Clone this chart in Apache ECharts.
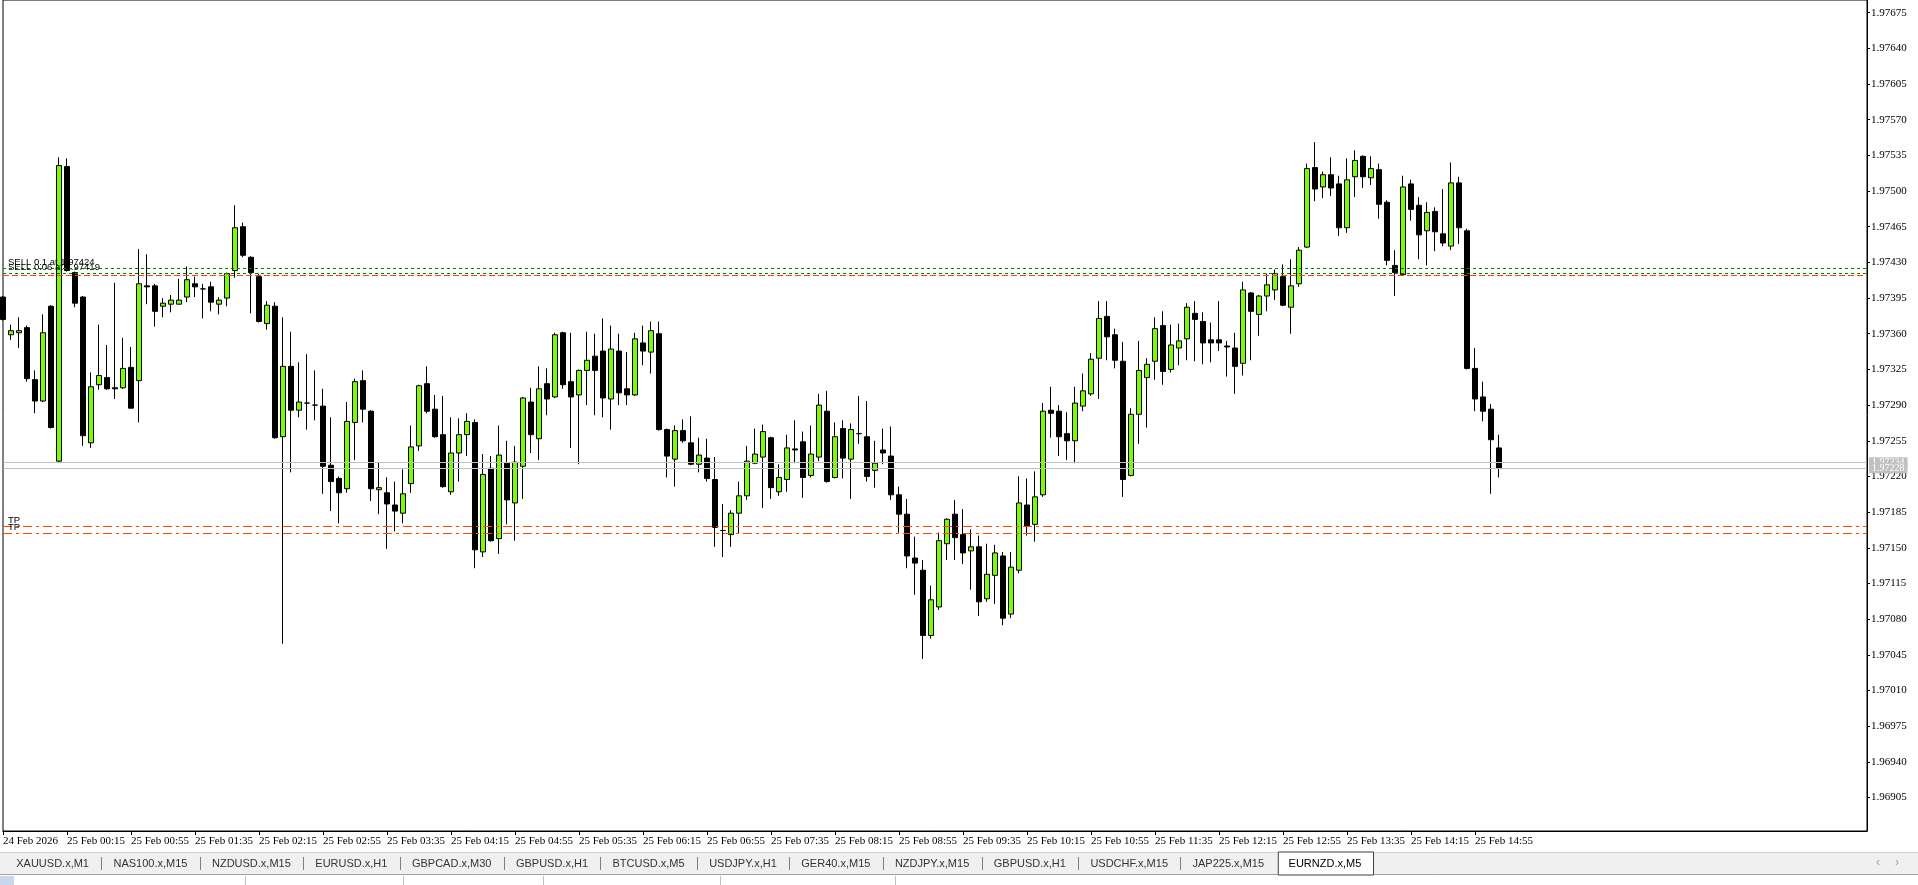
<!DOCTYPE html>
<html><head><meta charset="utf-8">
<script src="https://cdn.jsdelivr.net/npm/echarts@6/dist/echarts.min.js"></script>
<style>html,body{margin:0;padding:0;background:#fff;overflow:hidden}#c{width:1918px;height:885px}</style>
</head><body><div id="c"></div>
<script>
// ---- data ----
const opens = [1.97396,1.97359,1.97361,1.97366,1.97315,1.97294,1.97387,1.97235,1.97524,1.97420,
1.97396,1.97253,1.97310,1.97317,1.97307,1.97307,1.97327,1.97314,1.97407,1.97407,
1.97387,1.97389,1.97389,1.97396,1.97409,1.97404,1.97406,1.97389,1.97395,1.97422,
1.97465,1.97435,1.97416,1.97370,1.97387,1.97259,1.97328,1.97285,1.97292,1.97290,
1.97289,1.97231,1.97218,1.97208,1.97273,1.97314,1.97284,1.97207,1.97204,1.97192,
1.97184,1.97213,1.97250,1.97311,1.97286,1.97261,1.97205,1.97243,1.97261,1.97273,
1.97146,1.97228,1.97159,1.97233,1.97194,1.97230,1.97293,1.97257,1.97311,1.97298,
1.97361,1.97313,1.97300,1.97324,1.97338,1.97343,1.97296,1.97343,1.97306,1.97300,
1.97351,1.97342,1.97360,1.97266,1.97237,1.97265,1.97253,1.97232,1.97238,1.97217,
1.97167,1.97163,1.97184,1.97201,1.97233,1.97239,1.97258,1.97205,1.97217,1.97247,
1.97254,1.97221,1.97239,1.97284,1.97219,1.97267,1.97237,1.97262,1.97259,1.97226,
1.97246,1.97240,1.97202,1.97183,1.97140,1.97128,1.97064,1.97092,1.97154,1.97183,
1.97163,1.97147,1.97151,1.97100,1.97123,1.97142,1.97085,1.97128,1.97192,1.97173,
1.97202,1.97285,1.97284,1.97262,1.97255,1.97289,1.97301,1.97336,1.97377,1.97359,
1.97333,1.97221,1.97281,1.97317,1.97333,1.97368,1.97325,1.97346,1.97355,1.97380,
1.97372,1.97354,1.97354,1.97348,1.97346,1.97331,1.97400,1.97379,1.97397,1.97403,
1.97416,1.97386,1.97409,1.97445,1.97523,1.97504,1.97516,1.97507,1.97464,1.97514,
1.97534,1.97513,1.97521,1.97489,1.97427,1.97418,1.97507,1.97486,1.97461,1.97480,
1.97458,1.97446,1.97508,1.97461,1.97326,1.97298,1.97286,1.97248];
const highs = [1.97397,1.97369,1.97376,1.97368,1.97324,1.97379,1.97388,1.97533,1.97532,1.97421,
1.97397,1.97322,1.97369,1.97349,1.97410,1.97356,1.97347,1.97443,1.97438,1.97409,
1.97395,1.97398,1.97414,1.97426,1.97416,1.97409,1.97411,1.97396,1.97420,1.97486,
1.97469,1.97436,1.97419,1.97392,1.97391,1.97376,1.97362,1.97332,1.97340,1.97324,
1.97306,1.97278,1.97220,1.97293,1.97316,1.97324,1.97285,1.97234,1.97219,1.97215,
1.97227,1.97270,1.97310,1.97328,1.97300,1.97299,1.97278,1.97277,1.97282,1.97276,
1.97242,1.97240,1.97270,1.97255,1.97250,1.97298,1.97307,1.97328,1.97326,1.97361,
1.97362,1.97361,1.97325,1.97362,1.97360,1.97375,1.97368,1.97360,1.97342,1.97361,
1.97368,1.97372,1.97372,1.97267,1.97270,1.97276,1.97279,1.97258,1.97257,1.97239,
1.97193,1.97187,1.97215,1.97250,1.97267,1.97271,1.97259,1.97232,1.97261,1.97275,
1.97264,1.97270,1.97301,1.97304,1.97273,1.97275,1.97272,1.97299,1.97294,1.97255,
1.97267,1.97269,1.97210,1.97198,1.97161,1.97138,1.97113,1.97165,1.97179,1.97197,
1.97188,1.97168,1.97162,1.97154,1.97153,1.97146,1.97146,1.97220,1.97218,1.97225,
1.97292,1.97308,1.97290,1.97283,1.97308,1.97321,1.97341,1.97392,1.97392,1.97365,
1.97352,1.97287,1.97353,1.97336,1.97376,1.97382,1.97369,1.97370,1.97390,1.97392,
1.97381,1.97371,1.97392,1.97353,1.97361,1.97411,1.97401,1.97398,1.97419,1.97423,
1.97428,1.97433,1.97445,1.97527,1.97548,1.97519,1.97533,1.97515,1.97532,1.97540,
1.97535,1.97534,1.97527,1.97491,1.97442,1.97515,1.97511,1.97494,1.97489,1.97484,
1.97502,1.97528,1.97514,1.97463,1.97346,1.97313,1.97291,1.97261];
const lows = [1.97373,1.97354,1.97346,1.97313,1.97282,1.97293,1.97267,1.97234,1.97421,1.97386,
1.97250,1.97248,1.97305,1.97305,1.97296,1.97306,1.97287,1.97273,1.97389,1.97367,
1.97376,1.97381,1.97389,1.97391,1.97396,1.97375,1.97382,1.97379,1.97387,1.97415,
1.97435,1.97380,1.97371,1.97364,1.97257,1.97056,1.97224,1.97278,1.97266,1.97275,
1.97203,1.97186,1.97174,1.97204,1.97236,1.97273,1.97196,1.97183,1.97149,1.97166,
1.97174,1.97204,1.97245,1.97282,1.97258,1.97209,1.97202,1.97215,1.97240,1.97130,
1.97141,1.97156,1.97144,1.97173,1.97157,1.97198,1.97243,1.97236,1.97280,1.97297,
1.97306,1.97248,1.97232,1.97290,1.97280,1.97278,1.97266,1.97290,1.97290,1.97299,
1.97329,1.97321,1.97265,1.97219,1.97210,1.97253,1.97231,1.97224,1.97215,1.97151,
1.97141,1.97151,1.97164,1.97197,1.97232,1.97189,1.97198,1.97201,1.97205,1.97233,
1.97199,1.97219,1.97235,1.97214,1.97218,1.97218,1.97198,1.97252,1.97215,1.97209,
1.97232,1.97197,1.97165,1.97130,1.97104,1.97041,1.97061,1.97089,1.97138,1.97138,
1.97134,1.97109,1.97083,1.97097,1.97095,1.97074,1.97081,1.97125,1.97162,1.97156,
1.97200,1.97258,1.97240,1.97236,1.97233,1.97284,1.97299,1.97296,1.97334,1.97326,
1.97200,1.97220,1.97252,1.97268,1.97315,1.97310,1.97322,1.97329,1.97334,1.97333,
1.97330,1.97332,1.97343,1.97318,1.97301,1.97319,1.97334,1.97358,1.97382,1.97393,
1.97387,1.97360,1.97406,1.97444,1.97490,1.97493,1.97495,1.97456,1.97459,1.97494,
1.97503,1.97506,1.97473,1.97427,1.97397,1.97417,1.97471,1.97433,1.97427,1.97441,
1.97446,1.97442,1.97448,1.97325,1.97284,1.97274,1.97203,1.97219];
const closes = [1.97374,1.97363,1.97363,1.97316,1.97294,1.97361,1.97268,1.97525,1.97422,1.97390,
1.97260,1.97308,1.97319,1.97306,1.97306,1.97326,1.97287,1.97409,1.97406,1.97382,
1.97390,1.97393,1.97393,1.97413,1.97406,1.97404,1.97391,1.97393,1.97419,1.97464,
1.97437,1.97420,1.97372,1.97388,1.97258,1.97328,1.97285,1.97293,1.97292,1.97290,
1.97230,1.97215,1.97204,1.97274,1.97313,1.97286,1.97208,1.97209,1.97193,1.97186,
1.97203,1.97249,1.97309,1.97284,1.97259,1.97210,1.97243,1.97261,1.97274,1.97148,
1.97222,1.97157,1.97241,1.97197,1.97234,1.97297,1.97261,1.97306,1.97296,1.97359,
1.97310,1.97298,1.97324,1.97334,1.97324,1.97297,1.97345,1.97302,1.97300,1.97355,
1.97343,1.97363,1.97266,1.97240,1.97265,1.97255,1.97232,1.97241,1.97218,1.97170,
1.97167,1.97184,1.97201,1.97235,1.97242,1.97264,1.97209,1.97219,1.97248,1.97246,
1.97219,1.97242,1.97290,1.97215,1.97259,1.97238,1.97266,1.97262,1.97220,1.97233,
1.97243,1.97202,1.97183,1.97142,1.97135,1.97064,1.97099,1.97157,1.97178,1.97160,
1.97145,1.97151,1.97097,1.97124,1.97145,1.97081,1.97131,1.97194,1.97171,1.97200,
1.97284,1.97282,1.97259,1.97255,1.97292,1.97304,1.97335,1.97375,1.97357,1.97334,
1.97217,1.97281,1.97324,1.97330,1.97365,1.97323,1.97349,1.97353,1.97386,1.97374,
1.97351,1.97351,1.97351,1.97347,1.97328,1.97403,1.97382,1.97397,1.97408,1.97419,
1.97388,1.97407,1.97442,1.97522,1.97502,1.97516,1.97503,1.97464,1.97511,1.97530,
1.97514,1.97522,1.97487,1.97432,1.97420,1.97504,1.97482,1.97457,1.97479,1.97460,
1.97449,1.97508,1.97464,1.97326,1.97296,1.97284,1.97256,1.97228];

const xTickLabels = ['24 Feb 2026','25 Feb 00:15','25 Feb 00:55','25 Feb 01:35','25 Feb 02:15','25 Feb 02:55',
'25 Feb 03:35','25 Feb 04:15','25 Feb 04:55','25 Feb 05:35','25 Feb 06:15','25 Feb 06:55','25 Feb 07:35',
'25 Feb 08:15','25 Feb 08:55','25 Feb 09:35','25 Feb 10:15','25 Feb 10:55','25 Feb 11:35','25 Feb 12:15',
'25 Feb 12:55','25 Feb 13:35','25 Feb 14:15','25 Feb 14:55'];
const yTicks = [1.96905,1.96940,1.96975,1.97010,1.97045,1.97080,1.97115,1.97150,1.97185,1.97220,1.97255,
1.97290,1.97325,1.97360,1.97395,1.97430,1.97465,1.97500,1.97535,1.97570,1.97605,1.97640,1.97675];
const levelPrices = [1.97424, 1.97419, 1.97417, 1.97171, 1.97164];
const levelLabels = ['SELL 0.1 at 1.97424', 'SELL 0.06 at 1.97419', '', 'TP', 'TP'];
const quotePrices = [1.97234, 1.97228];
const tabNames = ['XAUUSD.x,M1','NAS100.x,M15','NZDUSD.x,M15','EURUSD.x,H1','GBPCAD.x,M30','GBPUSD.x,H1',
'BTCUSD.x,M5','USDJPY.x,H1','GER40.x,M15','NZDJPY.x,M15','GBPUSD.x,H1','USDCHF.x,M15','JAP225.x,M15','EURNZD.x,M5'];
const yMin = 1.968722, yMax = 1.976874;
const totalSlots = 234;

// ---- build ----
const cats = [];
const startMin = 23 * 60 + 35;
for (let i = 0; i < totalSlots; i++) {
  if (i < opens.length) {
    let t = startMin + 5 * i, day = 24;
    if (t >= 1440) { t -= 1440; day = 25; }
    const hh = String(Math.floor(t / 60)).padStart(2, '0'), mm = String(t % 60).padStart(2, '0');
    cats.push(day + ' Feb ' + hh + ':' + mm);
  } else cats.push('');
}
const candles = opens.map((o, i) => [o, closes[i], lows[i], highs[i]]);
const showTick = (idx) => idx % 8 === 0 && idx / 8 < xTickLabels.length;

const markData = levelPrices.map((p, i) => ({
  yAxis: p,
  lineStyle: { color: i < 2 ? '#008000' : '#ff4500', width: 1,
    type: i < 2 ? [3, 3] : (i === 2 ? [6, 3] : [9, 4, 3, 4]) },
  label: { show: !!levelLabels[i], formatter: levelLabels[i], position: 'insideStartTop',
    distance: [5, 1], color: '#000', fontSize: 9.5, fontFamily: 'Liberation Sans' }
}));
quotePrices.forEach(p => markData.push({
  yAxis: p,
  lineStyle: { color: '#c0c0c0', width: 1, type: 'solid' },
  label: { show: true, position: 'end', formatter: p.toFixed(5), distance: 2,
    backgroundColor: '#c0c0c0', color: '#ffffff', fontSize: 10, padding: [0, 3, 0, 3],
    fontFamily: 'Liberation Sans Narrow' }
}));

const chart = echarts.init(document.getElementById('c'), null, { width: 1918, height: 885 });

// tab bar graphics
const mctx = document.createElement('canvas').getContext('2d');
const tabFont = '11px "Liberation Sans"';
mctx.font = tabFont;
const graphics = [
  { type: 'rect', shape: { x: 0, y: 852, width: 1918, height: 33 }, style: { fill: '#f0f0f0' }, silent: true },
  { type: 'line', shape: { x1: 0, y1: 852.5, x2: 1918, y2: 852.5 }, style: { stroke: '#d0d0d0' } },
  { type: 'rect', shape: { x: 0, y: 874, width: 1918, height: 11 }, style: { fill: '#ffffff' } },
  { type: 'line', shape: { x1: 0, y1: 874.5, x2: 1918, y2: 874.5 }, style: { stroke: '#a0a0a0' } }
];
let cx = 4;
tabNames.forEach((t, i) => {
  const w = mctx.measureText(t).width + 24.5;
  const active = i === tabNames.length - 1;
  if (active) {
    graphics.push({ type: 'rect', shape: { x: cx + 2, y: 852, width: w - 2, height: 23 },
      style: { fill: '#ffffff', stroke: '#404040', lineWidth: 1 } });
  } else if (i < tabNames.length - 2) {
    graphics.push({ type: 'line', shape: { x1: Math.round(cx + w) + 0.5, y1: 857, x2: Math.round(cx + w) + 0.5, y2: 870 },
      style: { stroke: '#808080' } });
  }
  graphics.push({ type: 'text', x: cx + w / 2, y: 863.5,
    style: { text: t, font: tabFont, fill: active ? '#000' : '#333', align: 'center', verticalAlign: 'middle' } });
  cx += w;
});
graphics.push({ type: 'text', x: 1878, y: 863, style: { text: '‹', font: '12px "Liberation Sans"', fill: '#a0a0a0', align: 'center', verticalAlign: 'middle' } });
graphics.push({ type: 'text', x: 1897, y: 863, style: { text: '›', font: '12px "Liberation Sans"', fill: '#a0a0a0', align: 'center', verticalAlign: 'middle' } });
[245, 403, 543, 720, 895].forEach(x => graphics.push({ type: 'line', shape: { x1: x + 0.5, y1: 876, x2: x + 0.5, y2: 885 }, style: { stroke: '#c0c0c0' } }));
graphics.push({ type: 'rect', shape: { x: 0, y: 876, width: 14, height: 9 }, style: { fill: '#c8d8ec' } });

chart.setOption({
  animation: false,
  backgroundColor: '#ffffff',
  grid: { left: 2, right: 51, top: -1, bottom: 54, show: true, borderColor: '#000', borderWidth: 1, backgroundColor: '#fff' },
  xAxis: {
    type: 'category', data: cats, boundaryGap: false,
    axisLine: { show: true, lineStyle: { color: '#000', width: 1 } },
    axisTick: { show: true, interval: (i) => showTick(i), length: 4, lineStyle: { color: '#000' } },
    axisLabel: { interval: (i) => showTick(i), formatter: (v, i) => xTickLabels[i / 8] || '',
      align: 'left', margin: 5, color: '#000', fontSize: 11, fontFamily: 'Liberation Sans Narrow', hideOverlap: false },
    splitLine: { show: false }
  },
  yAxis: {
    type: 'value', position: 'right', min: yMin, max: yMax, scale: true,
    axisLine: { show: true, lineStyle: { color: '#000', width: 1 } },
    axisTick: { show: true, customValues: yTicks, length: 3, inside: false, lineStyle: { color: '#000' } },
    axisLabel: { customValues: yTicks, formatter: (v) => v.toFixed(5), margin: 4, color: '#000',
      fontSize: 11, fontFamily: 'Liberation Sans Narrow' },
    splitLine: { show: false }
  },
  series: [{
    type: 'candlestick', data: candles, barWidth: 5,
    itemStyle: { color: '#7cfc00', color0: '#000000', borderColor: '#000000', borderColor0: '#000000', borderWidth: 1 },
    markLine: { silent: true, symbol: ['none', 'none'], animation: false, precision: 5, data: markData }
  }],
  graphic: graphics
});
</script>
</body></html>
